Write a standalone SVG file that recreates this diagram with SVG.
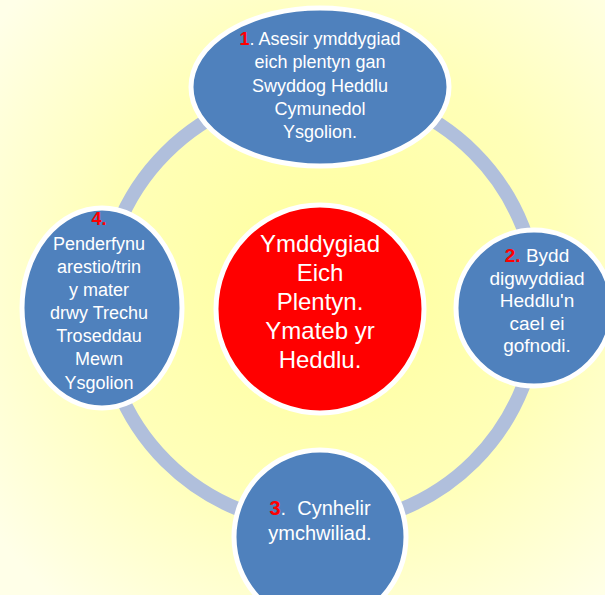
<svg xmlns="http://www.w3.org/2000/svg" width="605" height="595" viewBox="0 0 605 595">
<defs>
<radialGradient id="bg" cx="330" cy="280" r="420" gradientUnits="userSpaceOnUse">
<stop offset="0" stop-color="#FFFF9C"/>
<stop offset="0.55" stop-color="#FFFFB8"/>
<stop offset="1" stop-color="#FFFFE8"/>
</radialGradient>
<clipPath id="c4"><ellipse cx="102" cy="308" rx="79" ry="99"/></clipPath>
<style>
.node{fill:#4F81BD;stroke:#FFFFFF;stroke-width:5}
.t{font-family:"Liberation Sans",Arial,sans-serif;font-size:18px;fill:#FFFFFF;text-anchor:middle}
.n{fill:#FF0000;font-weight:bold}
.c{font-size:24px}
.m{font-size:19px}
.l{font-size:20px}
</style>
</defs>
<rect x="0" y="0" width="605" height="595" fill="url(#bg)"/>
<g id="connectors">
<circle cx="320" cy="307" r="218" fill="none" stroke="#B0BFDC" stroke-width="14"/>
</g>
<g id="center">
<circle cx="320" cy="309" r="104" fill="#FF0000" stroke="#FFFFFF" stroke-width="5"/>
<text class="t c" x="320" y="252">Ymddygiad</text>
<text class="t c" x="320" y="281">Eich</text>
<text class="t c" x="320" y="310">Plentyn.</text>
<text class="t c" x="320" y="339">Ymateb yr</text>
<text class="t c" x="320" y="368">Heddlu.</text>
</g>
<g id="node1">
<ellipse class="node" cx="320" cy="87" rx="129" ry="79"/>
<text class="t" x="320" y="45"><tspan class="n">1</tspan>. Asesir ymddygiad</text>
<text class="t" x="320" y="68">eich plentyn gan</text>
<text class="t" x="320" y="92">Swyddog Heddlu</text>
<text class="t" x="320" y="115">Cymunedol</text>
<text class="t" x="320" y="138">Ysgolion.</text>
</g>
<g id="node2">
<ellipse class="node" cx="534" cy="308" rx="78" ry="78"/>
<text class="t m" x="537" y="262"><tspan class="n">2.</tspan> Bydd</text>
<text class="t m" x="537" y="285">digwyddiad</text>
<text class="t m" x="537" y="307">Heddlu'n</text>
<text class="t m" x="537" y="330">cael ei</text>
<text class="t m" x="537" y="352">gofnodi.</text>
</g>
<g id="node3">
<ellipse class="node" cx="320" cy="537" rx="86" ry="87"/>
<text class="t l" x="320" y="515"><tspan class="n">3</tspan>.&#160; Cynhelir</text>
<text class="t l" x="320" y="540">ymchwiliad.</text>
</g>
<g id="node4">
<ellipse class="node" cx="102" cy="308" rx="80" ry="100"/>
<g clip-path="url(#c4)">
<text class="t n" x="99" y="225">4.</text>
<text class="t" x="99" y="250">Penderfynu</text>
<text class="t" x="99" y="273">arestio/trin</text>
<text class="t" x="99" y="296">y mater</text>
<text class="t" x="99" y="319">drwy Trechu</text>
<text class="t" x="99" y="342">Troseddau</text>
<text class="t" x="99" y="365">Mewn</text>
<text class="t" x="99" y="389">Ysgolion</text>
</g>
</g>
</svg>
